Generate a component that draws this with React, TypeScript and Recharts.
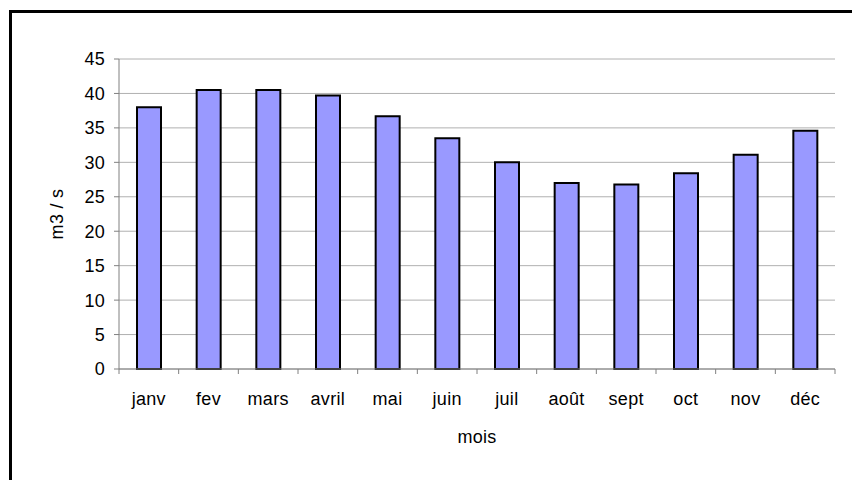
import React from "react";
import { BarChart, Bar, XAxis, YAxis, CartesianGrid } from "recharts";

// débit moyen mensuel
const months = ["janv", "fev", "mars", "avril", "mai", "juin", "juil", "août", "sept", "oct", "nov", "déc"];
const debit = [38, 40.5, 40.5, 39.7, 36.7, 33.5, 30, 27, 26.8, 28.4, 31.1, 34.6];
const yTicks = [0, 5, 10, 15, 20, 25, 30, 35, 40, 45];

const data = months.map((mois, i) => ({ mois, debit: debit[i] }));

const FONT = "'Liberation Sans', Arial, sans-serif";
const FONT_SIZE = 18;
const AXIS_GREY = "#808080";
const X_TICK_SIZE = 5;
const X_TICK_MARGIN = 31;

const CategoryTick = (props: any) => {
  const { x, y, payload, index, visibleTicksCount } = props;
  const half = payload && payload.offset ? payload.offset : 29.8;
  const top = y - X_TICK_MARGIN - X_TICK_SIZE;
  const bottom = y - X_TICK_MARGIN;
  return (
    <g>
      <line x1={x - half} x2={x - half} y1={top} y2={bottom} stroke={AXIS_GREY} />
      {index === visibleTicksCount - 1 && (
        <line x1={x + half} x2={x + half} y1={top} y2={bottom} stroke={AXIS_GREY} />
      )}
      <text x={x} y={y} textAnchor="middle" fontSize={FONT_SIZE} fontFamily={FONT} fill="#000" letterSpacing={0.3}>
        {payload.value}
      </text>
    </g>
  );
};

const YTitle = (props: any) => {
  const { viewBox } = props;
  const cx = viewBox.x + 63;
  const cy = viewBox.y + viewBox.height / 2;
  return (
    <text x={cx} y={cy} transform={`rotate(-90 ${cx} ${cy})`} textAnchor="middle" fontSize={FONT_SIZE} fontFamily={FONT} fill="#000" letterSpacing={0.3}>
      m3 / s
    </text>
  );
};

const XTitle = (props: any) => {
  const { viewBox } = props;
  const cx = viewBox.x + viewBox.width / 2;
  return (
    <text x={cx} y={443} textAnchor="middle" fontSize={FONT_SIZE} fontFamily={FONT} fill="#000" letterSpacing={0.3}>
      mois
    </text>
  );
};

export default function App() {
  return (
    <div style={{ position: "absolute", left: 0, top: 0, width: 852, height: 480, overflow: "hidden", background: "#fff" }}>
      <div
        style={{
          position: "absolute",
          left: 9,
          top: 10,
          width: 900,
          height: 600,
          borderTop: "3px solid #000",
          borderLeft: "3px solid #000",
        }}
      />
      <BarChart
        width={852}
        height={480}
        data={data}
        margin={{ top: 59, right: 17, bottom: 41, left: 0 }}
        barSize={24}
        style={{ position: "absolute", left: 0, top: 0 }}
      >
        <CartesianGrid vertical={false} stroke="#b0b0b0" />
        <XAxis
          dataKey="mois"
          height={70}
          axisLine={{ stroke: AXIS_GREY }}
          tickLine={false}
          tickSize={X_TICK_SIZE}
          tickMargin={X_TICK_MARGIN}
          interval={0}
          tick={<CategoryTick />}
          label={<XTitle />}
        />
        <YAxis
          width={119}
          domain={[0, 45]}
          ticks={yTicks}
          interval={0}
          axisLine={{ stroke: AXIS_GREY }}
          tickLine={{ stroke: AXIS_GREY }}
          tickSize={5}
          tickMargin={9}
          tick={{ fill: "#000", fontSize: FONT_SIZE, fontFamily: FONT, letterSpacing: 0.3 }}
          label={<YTitle />}
        />
        <Bar dataKey="debit" fill="#9999ff" stroke="#000" strokeWidth={2} isAnimationActive={false} />
      </BarChart>
    </div>
  );
}
